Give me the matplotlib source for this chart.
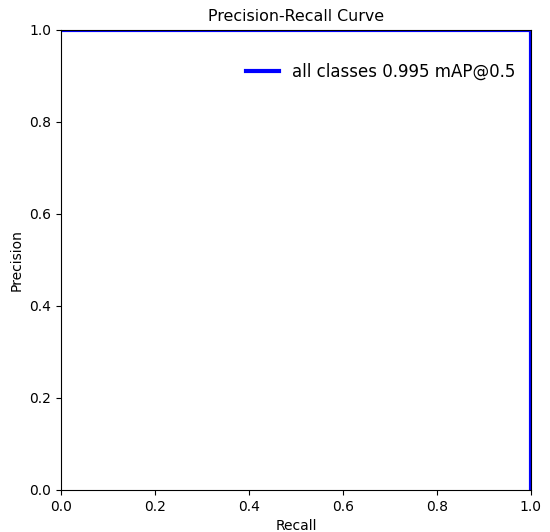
import numpy as np
import matplotlib
matplotlib.use('Agg')
import matplotlib.pyplot as plt

#%% data
recall = [0.0, 1.0, 1.0]
precision = [1.0, 1.0, 0.0]
label = 'all classes 0.995 mAP@0.5'

#%% plot
fig = plt.figure(figsize=(5.5, 5.32), dpi=100)
ax = fig.add_axes([0.111, 0.079, 0.854, 0.865])
ax.plot(recall, precision, linewidth=3, color='blue', label=label)
ax.set_xlim(0, 1)
ax.set_ylim(0, 1)
ax.set_xlabel('Recall')
ax.set_ylabel('Precision')
ax.set_title('Precision-Recall Curve', fontsize=11.4)
ax.legend(loc='upper right', fontsize=12, frameon=False, bbox_to_anchor=(1.0, 0.96))
fig.savefig('out.png', dpi=100)
